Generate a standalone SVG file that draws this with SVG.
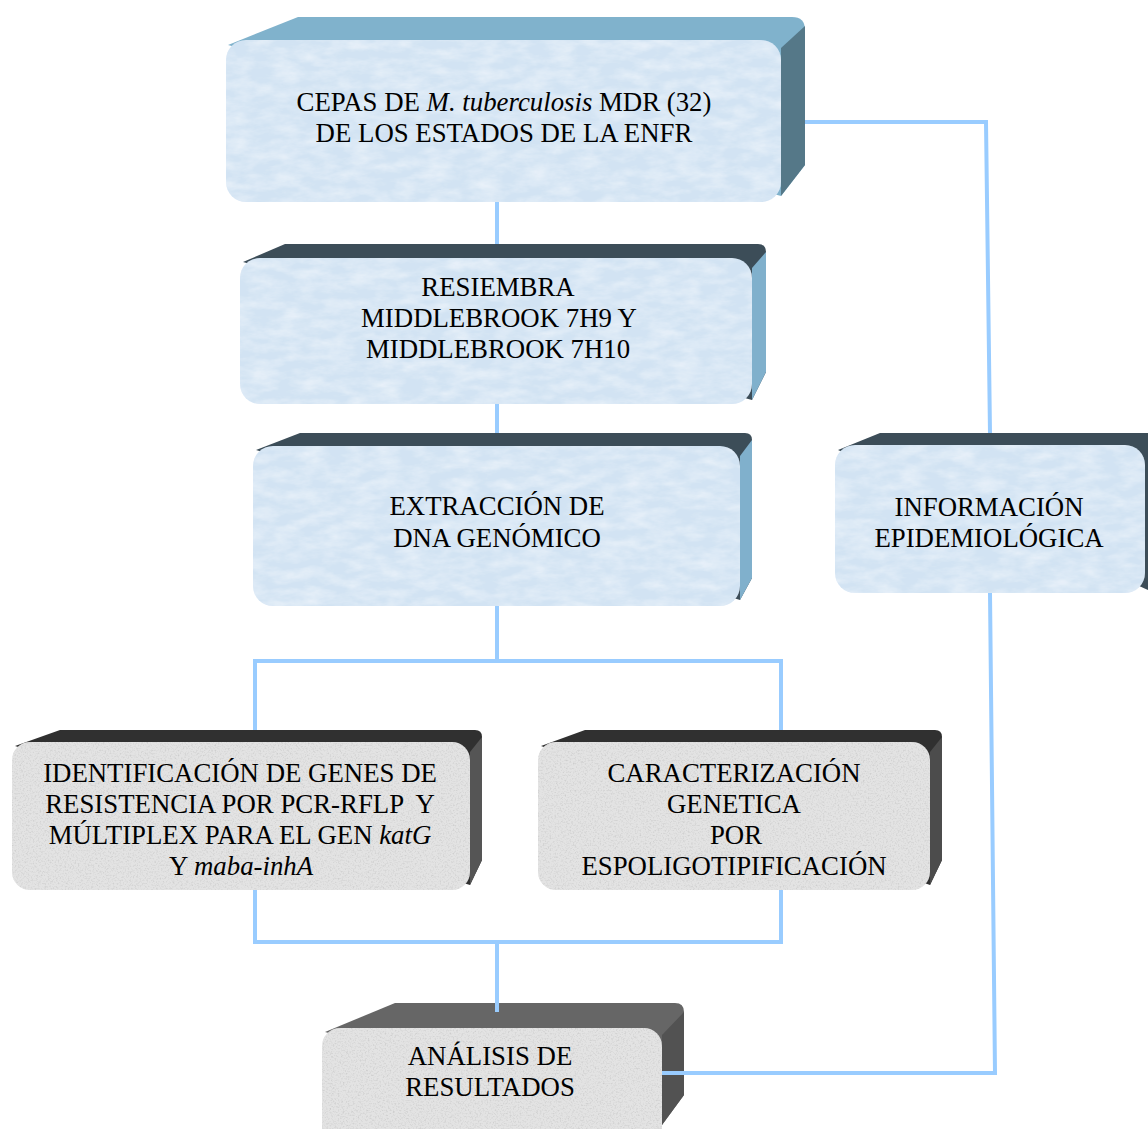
<svg xmlns="http://www.w3.org/2000/svg" width="1148" height="1129" viewBox="0 0 1148 1129">
<style>
  .t { font-family: "Liberation Serif", "Times New Roman", serif; font-size: 26.8px; fill: #000; text-anchor: middle; white-space: pre; }
  .i { font-style: italic; }
  .blue { fill: #d2e3f3; }
  .gray { fill: #e3e3e3; }
  .conn { stroke: #99ccff; stroke-width: 4; fill: none; }
</style>
<defs>
  <filter id="texBlue" x="0" y="0" width="100%" height="100%">
    <feTurbulence type="fractalNoise" baseFrequency="0.04 0.1" numOctaves="4" seed="4" result="n"/>
    <feColorMatrix in="n" type="matrix" values="0 0 0 0 0.95  0 0 0 0 0.97  0 0 0 0 1  0.9 0 0 0 -0.3" result="w"/>
    <feComposite in="w" in2="SourceGraphic" operator="in" result="wc"/>
    <feMerge><feMergeNode in="SourceGraphic"/><feMergeNode in="wc"/></feMerge>
  </filter>
  <filter id="texGray" x="0" y="0" width="100%" height="100%">
    <feTurbulence type="fractalNoise" baseFrequency="0.6" numOctaves="2" seed="7" result="n"/>
    <feColorMatrix in="n" type="matrix" values="0 0 0 0 0.55  0 0 0 0 0.55  0 0 0 0 0.55  1.8 0 0 0 -0.85" result="d"/>
    <feComposite in="d" in2="SourceGraphic" operator="in" result="dc"/>
    <feMerge><feMergeNode in="SourceGraphic"/><feMergeNode in="dc"/></feMerge>
  </filter>
</defs>

<g id="node-cepas">
  <path d="M228,45 L298,17 L792,17 Q805,17 805,30 L805,165 L781,196 Z" fill="#80b2cc"/>
  <path d="M781,48 L805,26 L805,165 L781,196 Z" fill="#557888"/>
  <rect x="226" y="40" width="555" height="162" rx="20" class="blue" filter="url(#texBlue)"/>
  <text class="t" x="504" y="111">CEPAS DE <tspan class="i">M. tuberculosis</tspan> MDR (32)</text>
  <text class="t" x="504" y="142">DE LOS ESTADOS DE LA ENFR</text>
</g>

<g id="node-resiembra">
  <path d="M243,262 L285,244 L758,244 Q766,244 766,252 L766,372 L752,400 Z" fill="#3c4d58"/>
  <path d="M752,268 L766,252 L766,372 L752,400 Z" fill="#80b0cc"/>
  <rect x="240" y="258" width="512" height="146" rx="20" class="blue" filter="url(#texBlue)"/>
  <text class="t" x="498" y="296">RESIEMBRA</text>
  <text class="t" x="499" y="327">MIDDLEBROOK 7H9 Y</text>
  <text class="t" x="498" y="358">MIDDLEBROOK 7H10</text>
</g>

<g id="node-extraccion">
  <path d="M256,450 L300,433 L745,433 Q752,433 752,440 L752,578 L740,600 Z" fill="#3c4d58"/>
  <path d="M740,456 L752,440 L752,578 L740,600 Z" fill="#80b0cc"/>
  <rect x="253" y="446" width="487" height="160" rx="20" class="blue" filter="url(#texBlue)"/>
  <text class="t" x="497" y="515">EXTRACCIÓN DE</text>
  <text class="t" x="497" y="547">DNA GENÓMICO</text>
</g>

<g id="node-informacion">
  <path d="M838,450 L880,433 L1148,433 L1148,590 Z" fill="#3c4d58"/>
  <rect x="835" y="445" width="310" height="148" rx="20" class="blue" filter="url(#texBlue)"/>
  <text class="t" x="989" y="516">INFORMACIÓN</text>
  <text class="t" x="989" y="547">EPIDEMIOLÓGICA</text>
</g>

<g id="node-identificacion">
  <path d="M15,746 L60,730 L475,730 Q482,730 482,737 L482,860 L470,885 Z" fill="#303030"/>
  <path d="M470,752 L482,737 L482,860 L470,885 Z" fill="#555555"/>
  <rect x="12" y="742" width="458" height="148" rx="18" class="gray" filter="url(#texGray)"/>
  <text class="t" x="240" y="782">IDENTIFICACIÓN DE GENES DE</text>
  <text class="t" x="240" y="813">RESISTENCIA POR PCR-RFLP  Y</text>
  <text class="t" x="240" y="844">MÚLTIPLEX PARA EL GEN <tspan class="i">katG</tspan></text>
  <text class="t" x="241" y="875">Y <tspan class="i">maba-inhA</tspan></text>
</g>

<g id="node-caracterizacion">
  <path d="M541,746 L585,730 L935,730 Q942,730 942,737 L942,860 L930,885 Z" fill="#303030"/>
  <path d="M930,752 L942,737 L942,860 L930,885 Z" fill="#4c4c4c"/>
  <rect x="538" y="742" width="392" height="148" rx="18" class="gray" filter="url(#texGray)"/>
  <text class="t" x="734" y="782">CARACTERIZACIÓN</text>
  <text class="t" x="734" y="813">GENETICA</text>
  <text class="t" x="736" y="844">POR</text>
  <text class="t" x="734" y="875">ESPOLIGOTIPIFICACIÓN</text>
</g>

<g id="node-analisis">
  <path d="M325,1032 L395,1003 L675,1003 Q684,1003 684,1012 L684,1095 L662,1125 Z" fill="#666666"/>
  <path d="M662,1035 L684,1012 L684,1095 L662,1125 Z" fill="#525252"/>
  <rect x="322" y="1028" width="340" height="120" rx="18" class="gray" filter="url(#texGray)"/>
  <text class="t" x="490" y="1065">ANÁLISIS DE</text>
  <text class="t" x="490" y="1096">RESULTADOS</text>
</g>

<g id="connectors">
  <line class="conn" x1="497" y1="202" x2="497" y2="244"/>
  <line class="conn" x1="497" y1="404" x2="497" y2="433"/>
  <polyline class="conn" points="497,606 497,661"/>
  <polyline class="conn" points="255,730 255,661 781,661 781,730"/>
  <polyline class="conn" points="255,890 255,942 781,942 781,890"/>
  <line class="conn" x1="497" y1="942" x2="497" y2="1012"/>
  <polyline class="conn" points="805,122 986,122 990,433"/>
  <polyline class="conn" points="990,593 995,1073 662,1073"/>
</g>
</svg>
